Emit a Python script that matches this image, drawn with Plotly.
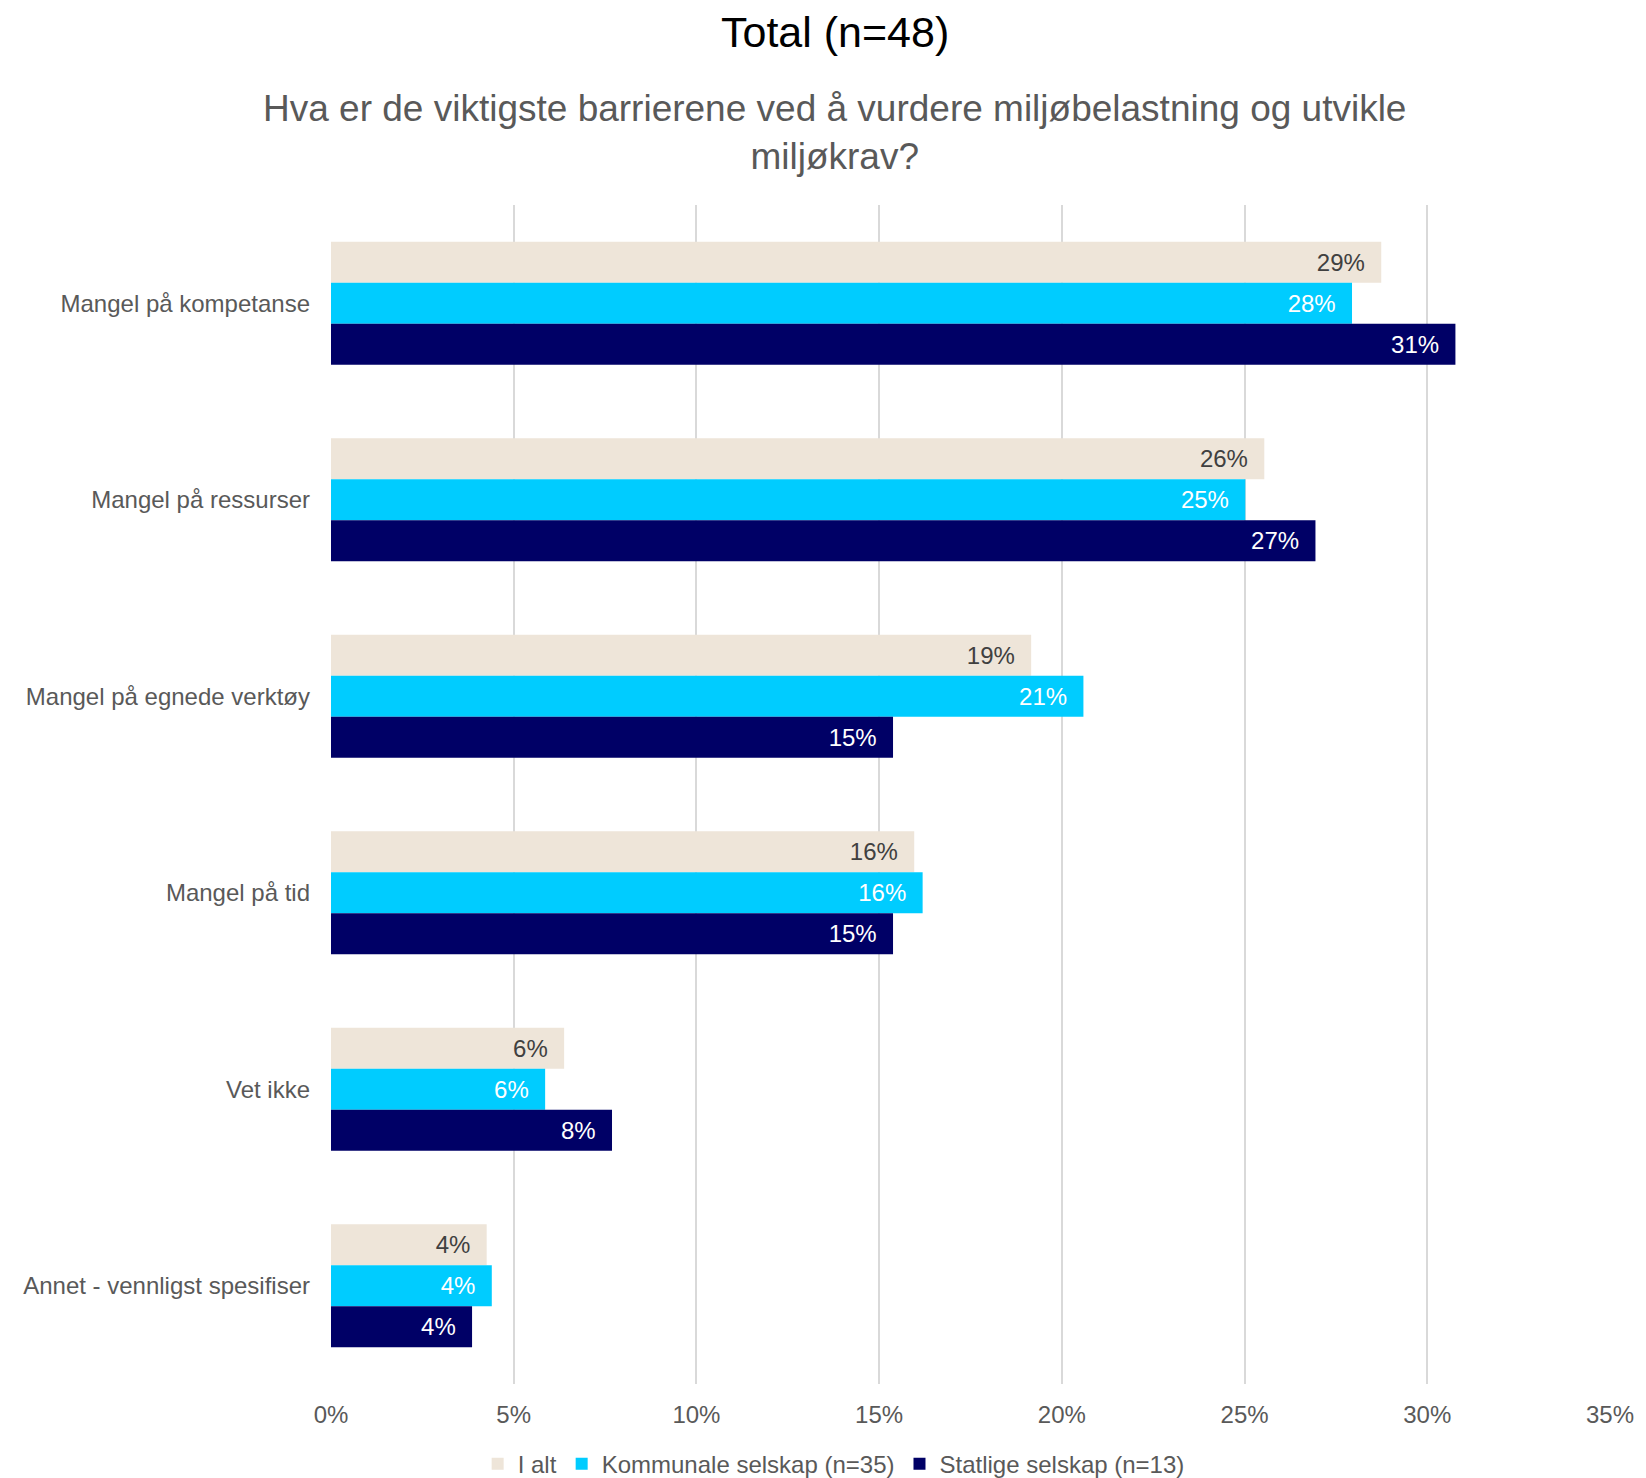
import plotly.graph_objects as go

categories = ["Mangel på kompetanse", "Mangel på ressurser", "Mangel på egnede verktøy",
              "Mangel på tid", "Vet ikke", "Annet - vennligst spesifiser"]
i_alt = [0.2874, 0.2554, 0.1916, 0.1596, 0.0638, 0.0426]
kommunale = [0.2794, 0.2502, 0.2059, 0.1619, 0.0586, 0.0440]
statlige = [0.3077, 0.2694, 0.1538, 0.1538, 0.0769, 0.0386]
series_names = ["I alt", "Kommunale selskap (n=35)", "Statlige selskap (n=13)"]
tick_vals = [0, 0.05, 0.10, 0.15, 0.20, 0.25, 0.30, 0.35]

colors = ["#EEE5D9", "#00CCFF", "#000066"]
label_colors = ["#404040", "#FFFFFF", "#FFFFFF"]
FONT = "Liberation Sans, Arial, sans-serif"

fig = go.Figure()
for name, vals, col, lcol in zip(series_names, [i_alt, kommunale, statlige], colors, label_colors):
    fig.add_trace(go.Bar(
        y=categories, x=vals, name=name, orientation='h',
        marker=dict(color=col, line=dict(width=0)),
        texttemplate='%{x:.0%}\u00a0\u00a0', textposition='inside',
        insidetextanchor='end', constraintext='none',
        textfont=dict(size=24, color=lcol, family=FONT),
        hoverinfo='x+name'))

# page body adds an 8px offset, so the figure is sized for that
fig.update_layout(
    width=1638, height=1500,
    barmode='group', bargap=0.374, bargroupgap=0,
    plot_bgcolor='white', paper_bgcolor='white',
    margin=dict(l=323, r=30, t=197, b=124),
    font=dict(family=FONT, size=24, color='#595959'),
    showlegend=True,
    legend=dict(orientation='h', x=0.393, xanchor='center', y=-0.068, yanchor='middle',
                font=dict(size=24, color='#595959'), itemwidth=30, traceorder='normal'),
    annotations=[
        dict(text="Total (n=48)", xref='paper', yref='paper', x=0.394, y=1.1464,
             xanchor='center', yanchor='middle', showarrow=False,
             font=dict(size=43, color='#000000', family=FONT)),
        dict(text="Hva er de viktigste barrierene ved å vurdere miljøbelastning og utvikle<br>miljøkrav?",
             xref='paper', yref='paper', x=0.394, y=1.0615, xanchor='center', yanchor='middle',
             showarrow=False, font=dict(size=37, color='#595959', family=FONT)),
    ],
)
fig.update_xaxes(range=[0, 0.35], tickvals=tick_vals, tickformat='.0%',
                 showgrid=True, gridcolor='#D9D9D9', gridwidth=2, zeroline=False,
                 showline=False, ticklabelstandoff=14, tickfont=dict(size=24, color='#595959'))
fig.update_yaxes(autorange='reversed', showgrid=False, zeroline=False, showline=False,
                 ticklabelstandoff=20, tickfont=dict(size=24, color='#595959'))

fig.write_html("out.html")
